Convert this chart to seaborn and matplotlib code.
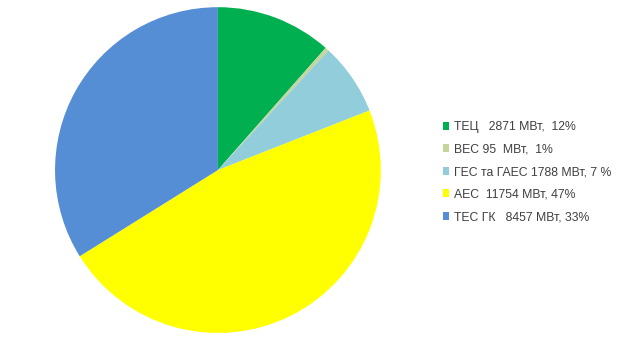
import matplotlib
matplotlib.use("Agg")
import matplotlib.pyplot as plt
import seaborn as sns
from matplotlib.patches import Patch

categories = ["ТЕЦ", "ВЕС", "ГЕС та ГАЕС", "АЕС", "ТЕС ГК"]
values_mw = [2871, 95, 1788, 11754, 8457]
legend_labels = [
    "ТЕЦ   2871 МВт,  12%",
    "ВЕС 95  МВт,  1%",
    "ГЕС та ГАЕС 1788 МВт, 7 %",
    "АЕС  11754 МВт, 47%",
    "ТЕС ГК   8457 МВт, 33%",
]
colors = ["#00B050", "#C3D69B", "#92CDDC", "#FFFF00", "#558ED5"]

sns.set_style("white")
plt.rcParams["font.family"] = ["Liberation Sans", "DejaVu Sans"]

fig = plt.figure(figsize=(6.4, 3.51), dpi=100)
ax = fig.add_axes([0.086, 0.051, 0.509, 0.929])
palette = sns.color_palette(colors)
ax.pie(values_mw, colors=palette, startangle=90, counterclock=False,
       wedgeprops=dict(linewidth=0))
ax.set_xlim(-1, 1)
ax.set_ylim(-1, 1)
ax.set_aspect("equal")
ax.axis("off")

handles = [Patch(facecolor=c, edgecolor="none") for c in palette]
leg = fig.legend(handles, legend_labels, loc="upper left",
                 bbox_to_anchor=(0.684, 0.669), frameon=False,
                 fontsize=8.8, handlelength=0.55, handleheight=0.6,
                 handletextpad=0.35, labelspacing=0.86, borderaxespad=0)
for t in leg.get_texts():
    t.set_color("#404040")

fig.savefig("out.png", dpi=100)
